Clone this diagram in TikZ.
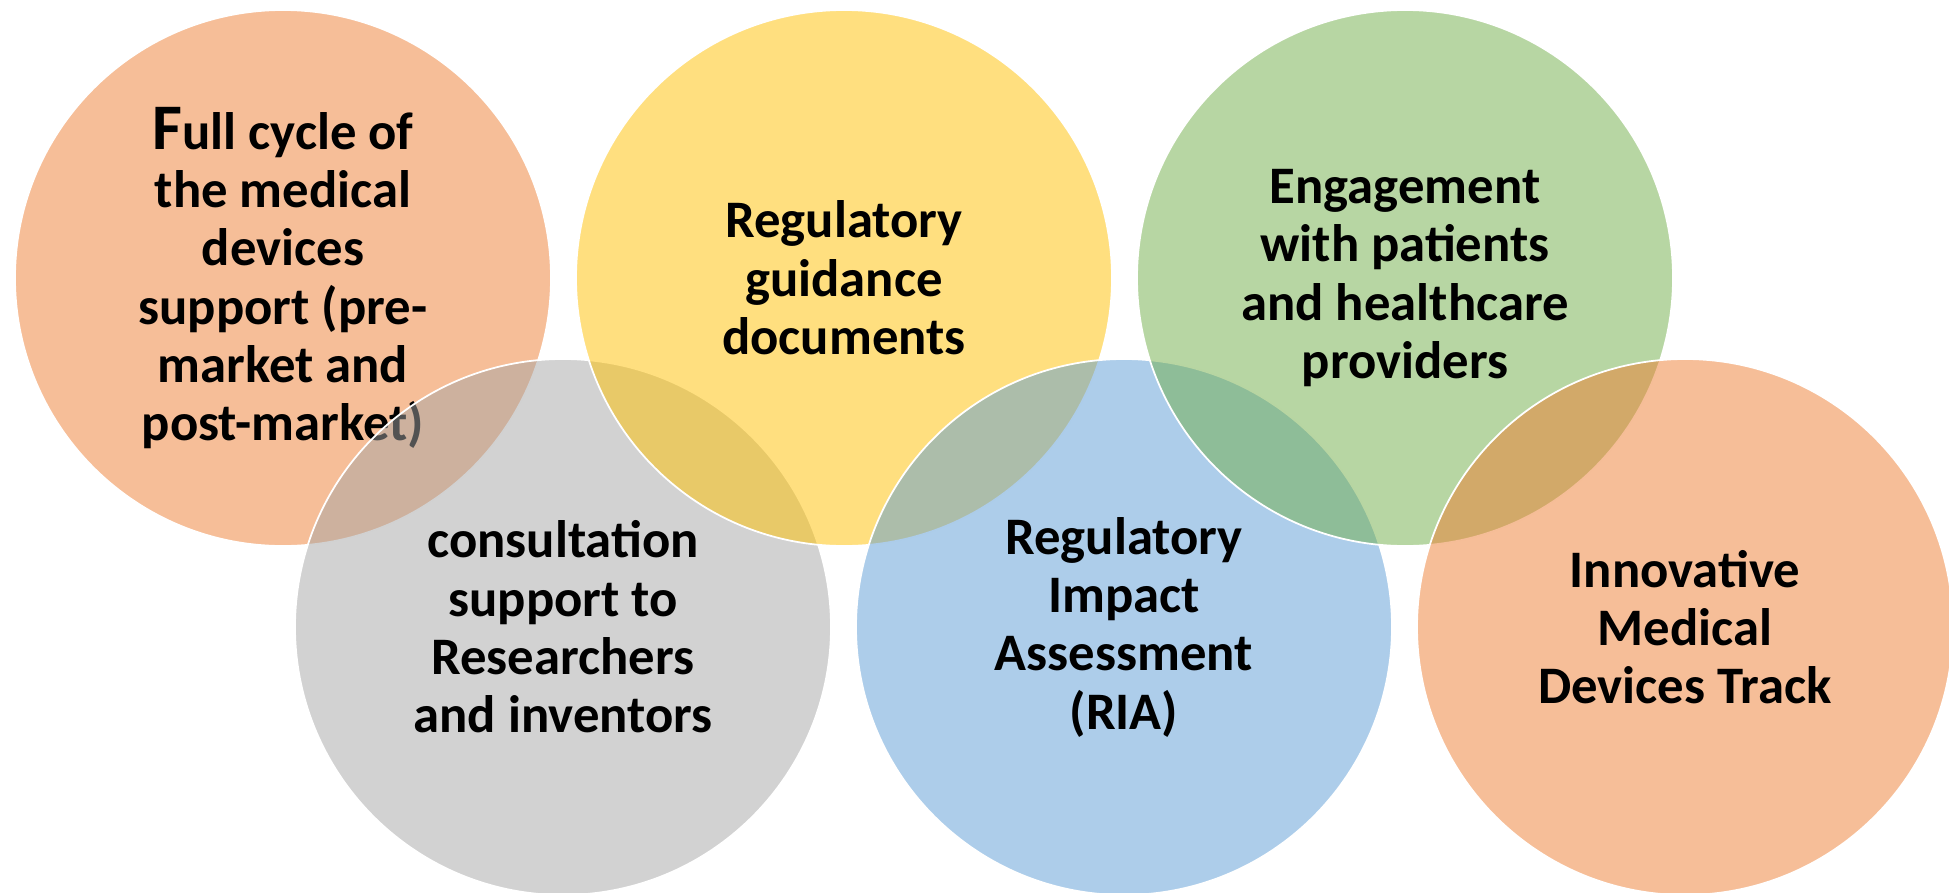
\documentclass[tikz,border=0pt]{standalone}
\usepackage{fontspec}
\setmainfont{Carlito}

\definecolor{accorange}{HTML}{ED7D31}
\definecolor{accgray}{HTML}{A5A5A5}
\definecolor{accyellow}{HTML}{FFC000}
\definecolor{accblue}{HTML}{5B9BD5}
\definecolor{accgreen}{HTML}{70AD47}

\begin{document}
\begin{tikzpicture}
\tikzstyle{every node}=[font=\fontsize{15}{16.6}\selectfont\bfseries,align=center]
\tikzstyle{bubble}=[circle,minimum size=5.36cm,inner sep=0pt,draw=white,line width=0.5pt,fill opacity=0.5,text opacity=1]
\useasboundingbox (0,0) rectangle (19.49,-8.92);

% drawn left to right, each one over the one before
\node[bubble,fill=accorange] (full) at (2.83,-2.78) {{\fontsize{18.5}{16.6}\selectfont F}ull cycle of\\the medical\\devices\\support (pre-\\market and\\post-market)};
\node[bubble,fill=accgray] (consult) at (5.63,-6.27) {consultation\\support to\\Researchers\\and inventors};
\node[bubble,fill=accyellow] (guide) at (8.44,-2.78) {Regulatory\\guidance\\documents};
\node[bubble,fill=accblue] (ria) at (11.24,-6.27) {Regulatory\\Impact\\Assessment\\(RIA)};
\node[bubble,fill=accgreen] (engage) at (14.05,-2.78) {Engagement\\with patients\\and healthcare\\providers};
\node[bubble,fill=accorange] (track) at (16.85,-6.27) {Innovative\\Medical\\Devices Track};

\end{tikzpicture}
\end{document}
